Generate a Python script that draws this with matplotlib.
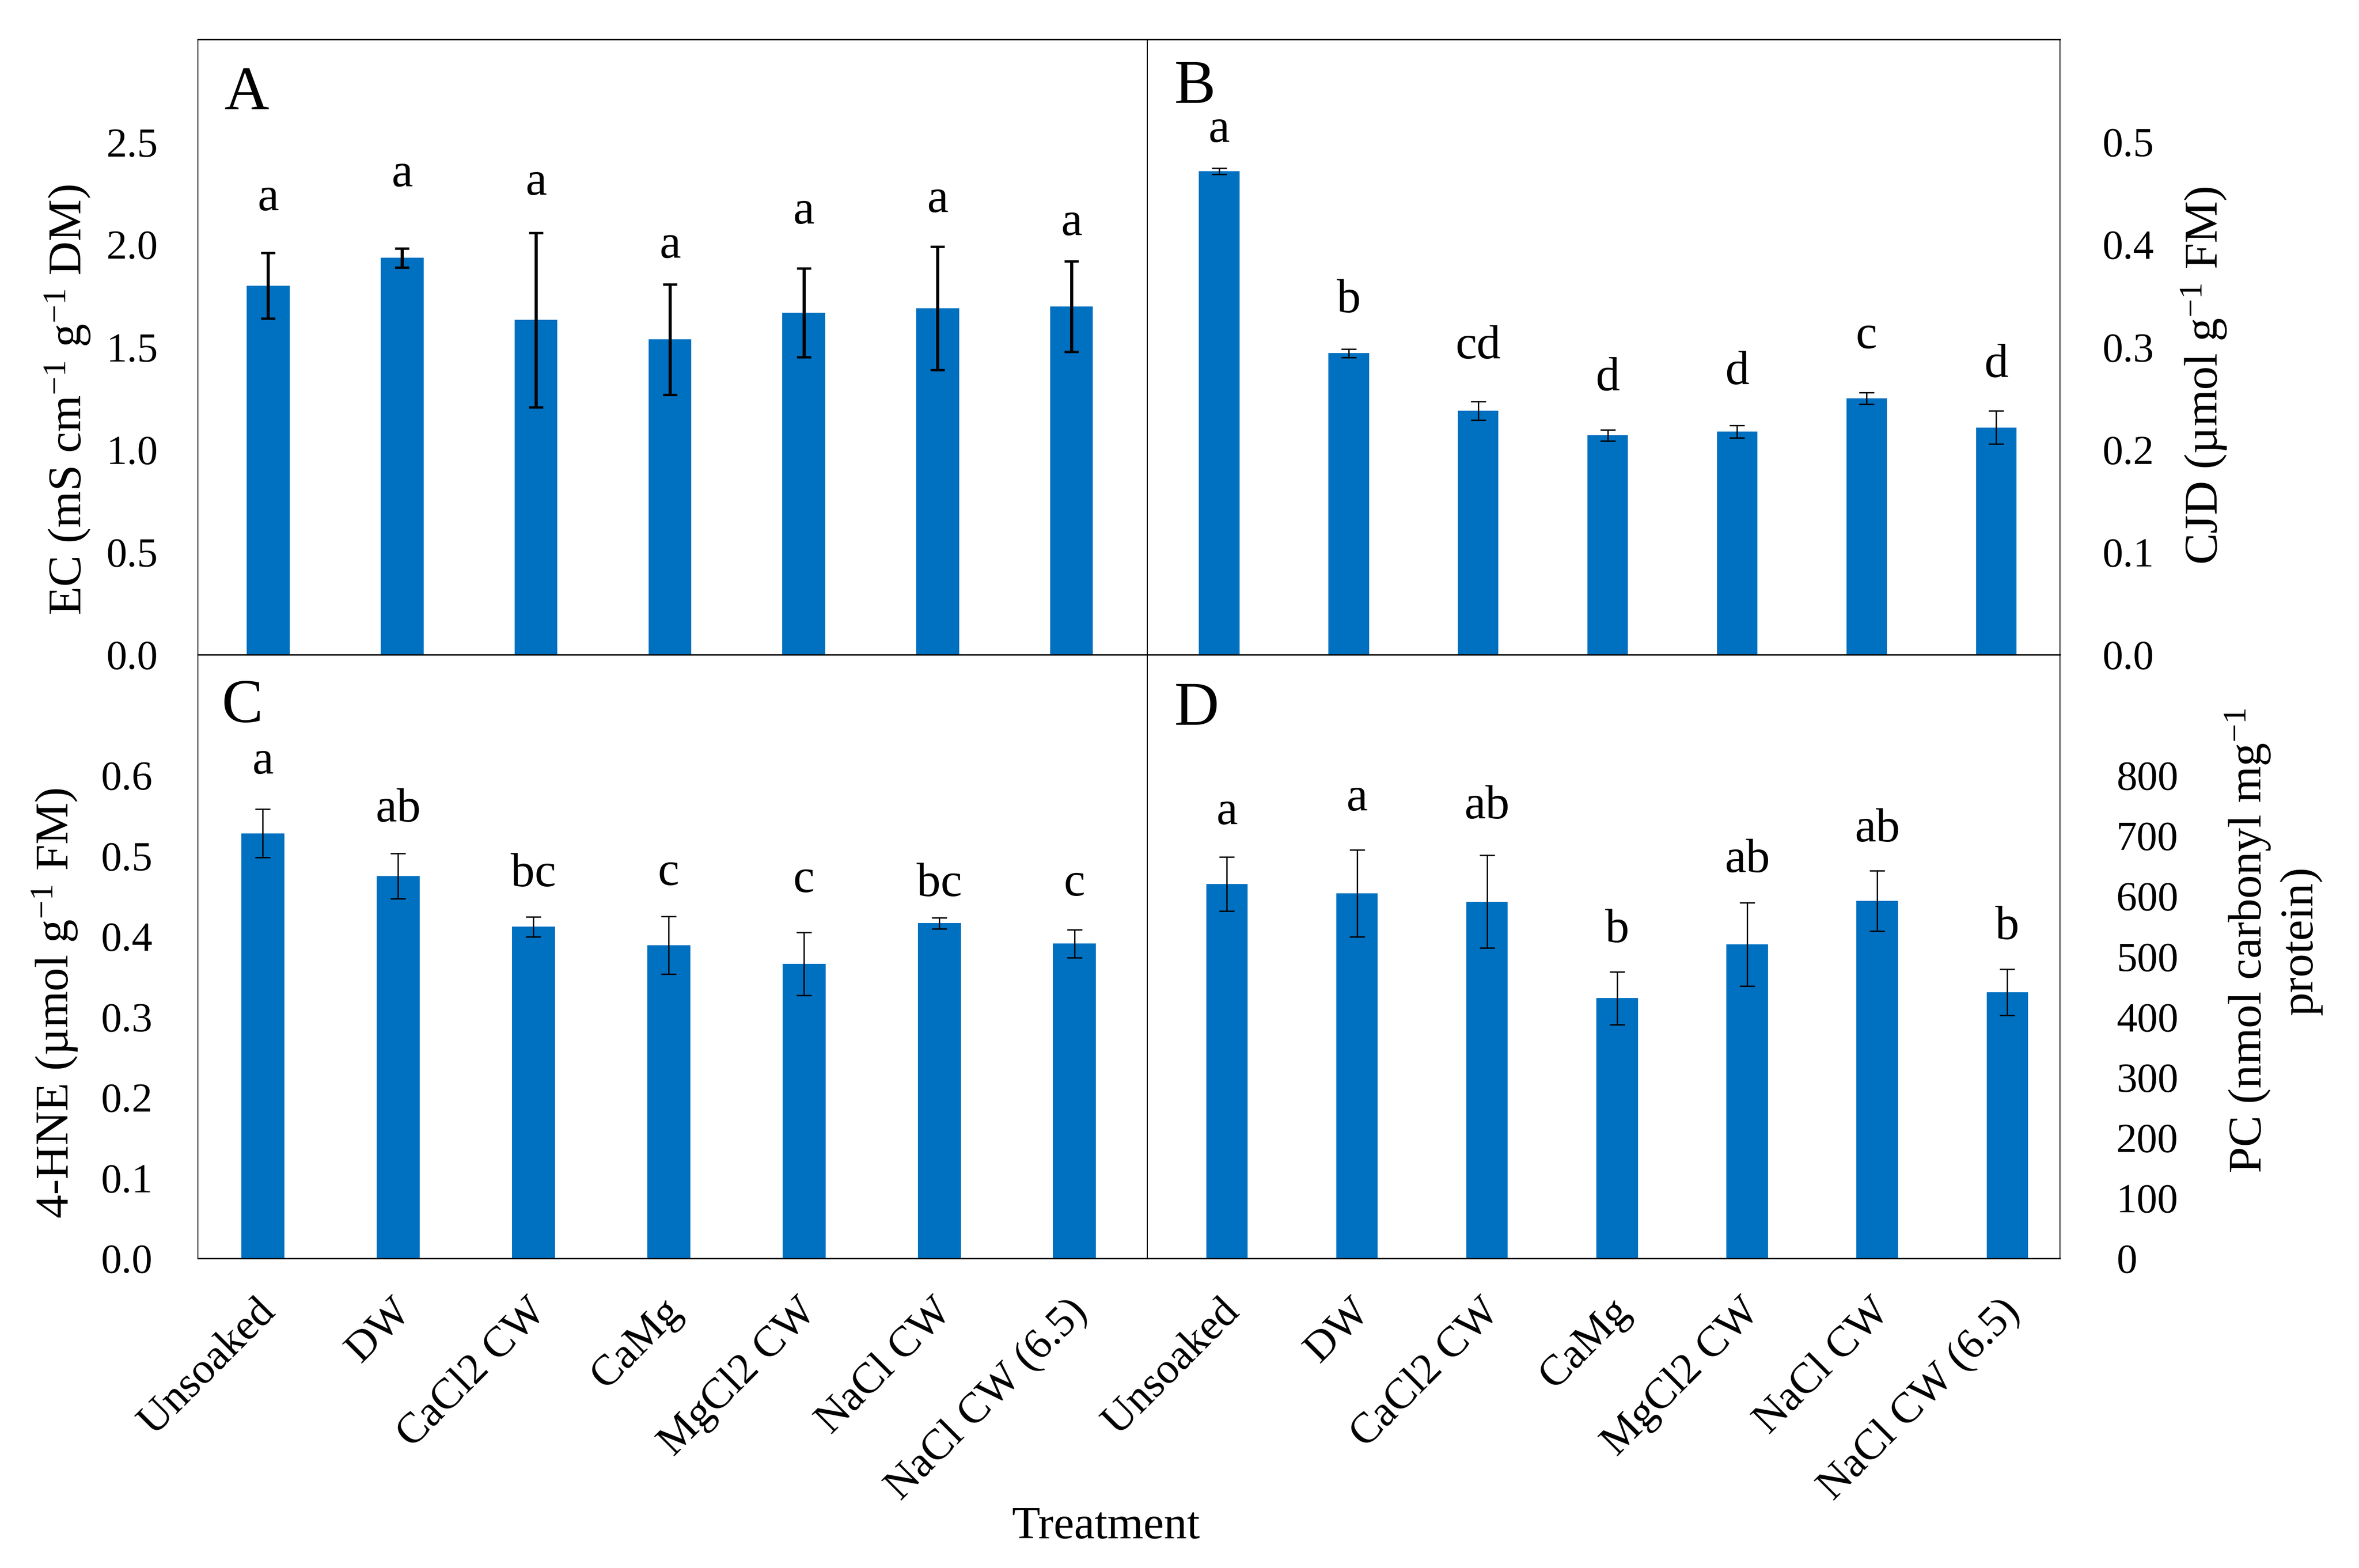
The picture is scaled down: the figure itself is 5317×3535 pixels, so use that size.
import numpy as np
import matplotlib
matplotlib.use("Agg")
import matplotlib.pyplot as plt
from matplotlib.transforms import ScaledTranslation

# ---------------- data ----------------
categories = ["Unsoaked", "DW", "CaCl2 CW", "CaMg", "MgCl2 CW", "NaCl CW", "NaCl CW (6.5)"]

ec_mean = [1.80, 1.935, 1.633, 1.537, 1.668, 1.689, 1.698]
ec_err = [0.16, 0.046, 0.425, 0.27, 0.217, 0.30, 0.22]
ec_letters = ["a", "a", "a", "a", "a", "a", "a"]
ec_letter_y = [2.167, 2.285, 2.244, 1.935, 2.102, 2.158, 2.046]

cjd_mean = [0.4717, 0.294, 0.238, 0.214, 0.2176, 0.250, 0.2217]
cjd_err = [0.003, 0.004, 0.009, 0.0054, 0.006, 0.0055, 0.0163]
cjd_letters = ["a", "b", "cd", "d", "d", "c", "d"]
cjd_letter_y = [0.500, 0.334, 0.289, 0.258, 0.264, 0.299, 0.271]

hne_mean = [0.528, 0.475, 0.412, 0.389, 0.366, 0.4164, 0.391]
hne_err = [0.030, 0.028, 0.0125, 0.036, 0.039, 0.007, 0.0175]
hne_letters = ["a", "ab", "bc", "c", "c", "bc", "c"]
hne_letter_y = [0.6025, 0.5426, 0.4626, 0.464, 0.455, 0.450, 0.451]

pc_mean = [620, 605, 591, 431, 520, 592, 441]
pc_err = [45, 72, 77, 44, 69, 50, 38]
pc_letters = ["a", "a", "ab", "b", "ab", "ab", "b"]
pc_letter_y = [719, 742, 729, 524, 640, 691, 529]

ec_ticks = [0.0, 0.5, 1.0, 1.5, 2.0, 2.5]
cjd_ticks = [0.0, 0.1, 0.2, 0.3, 0.4, 0.5]
hne_ticks = [0.0, 0.1, 0.2, 0.3, 0.4, 0.5, 0.6]
pc_ticks = [0, 100, 200, 300, 400, 500, 600, 700, 800]

# ---------------- style ----------------
plt.rcParams['font.family'] = ['Liberation Serif', 'DejaVu Serif']
plt.rcParams['mathtext.fontset'] = 'custom'
plt.rcParams['mathtext.rm'] = 'Liberation Serif'
plt.rcParams['mathtext.it'] = 'Liberation Serif:italic'
plt.rcParams['mathtext.bf'] = 'Liberation Serif:bold'

W, H = 5317, 3535
fig = plt.figure(figsize=(W / 300, H / 300), dpi=300)


def fx(px):
    return px / W


def fy(py):
    return 1 - py / H


L, M, R = 446, 2586, 4643
T, MID, B = 89, 1476, 2837

axA = fig.add_axes([fx(L), fy(MID), fx(M) - fx(L), fy(T) - fy(MID)])
axB = fig.add_axes([fx(M), fy(MID), fx(R) - fx(M), fy(T) - fy(MID)])
axC = fig.add_axes([fx(L), fy(B), fx(M) - fx(L), fy(MID) - fy(B)])
axD = fig.add_axes([fx(M), fy(B), fx(R) - fx(M), fy(MID) - fy(B)])

BLUE = "#0070C0"
x = np.arange(len(categories))

panels = [
    (axA, ec_mean, ec_err, ec_letters, ec_letter_y, (0, 3.0), ec_ticks, "{:.1f}",
     (-0.525, 6.566), 0.32, 1.7, 1.3, 3.9, 'left', 21.6),
    (axB, cjd_mean, cjd_err, cjd_letters, cjd_letter_y, (0, 0.6), cjd_ticks, "{:.1f}",
     (-0.554, 6.492), 0.314, 0.75, 0.75, 4.0, 'right', 23.0),
    (axC, hne_mean, hne_err, hne_letters, hne_letter_y, (0, 0.75), hne_ticks, "{:.1f}",
     (-0.480, 6.538), 0.318, 0.75, 0.75, 4.0, 'left', 24.5),
    (axD, pc_mean, pc_err, pc_letters, pc_letter_y, (0, 1000), pc_ticks, "{:.0f}",
     (-0.612, 6.405), 0.319, 0.75, 0.75, 4.0, 'right', 30.5),
]

for (ax, mean, err, letters, ly, ylim, yt, fmt, xlim, bw, elw, ct, cs, side, ypad) in panels:
    ax.bar(x, mean, width=bw, color=BLUE, yerr=err,
           error_kw=dict(ecolor='black', elinewidth=elw, capsize=cs, capthick=ct))
    for xi, lt, yy in zip(x, letters, ly):
        ax.text(xi, yy, lt, ha='center', va='baseline', fontsize=26)
    ax.set_ylim(*ylim)
    ax.set_xlim(*xlim)
    ax.set_yticks(yt, [fmt.format(v) for v in yt])
    if side == 'right':
        ax.yaxis.tick_right()
    ax.tick_params(axis='y', length=0, pad=ypad, labelsize=22.4)
    for name, sp in ax.spines.items():
        sp.set_linewidth(0.75 if name in ('top', 'bottom') else 0.5)
        sp.set_color('black')

for ax in (axA, axB):
    ax.set_xticks(x)
    ax.tick_params(axis='x', length=0, labelbottom=False)

shift = ScaledTranslation(-17 / 300, 0, fig.dpi_scale_trans)
for ax in (axC, axD):
    ax.set_xticks(x, categories, rotation=45, ha='right', va='top',
                  rotation_mode='anchor', fontsize=23.5)
    ax.tick_params(axis='x', length=0, pad=18)
    for lab in ax.get_xticklabels():
        lab.set_transform(lab.get_transform() + shift)

# panel letters
fig.text(fx(506), fy(246), "A", ha='left', va='baseline', fontsize=33.5)
fig.text(fx(2647), fy(232), "B", ha='left', va='baseline', fontsize=33.5)
fig.text(fx(499), fy(1628), "C", ha='left', va='baseline', fontsize=33.5)
fig.text(fx(2647), fy(1634), "D", ha='left', va='baseline', fontsize=33.5)

# axis labels
fig.text(fx(153), fy(902), r"EC (mS cm$^{-1}$ g$^{-1}$ DM)", rotation=90,
         ha='center', va='center', fontsize=25.5)
fig.text(fx(124), fy(2262), r"4-HNE (µmol g$^{-1}$ FM)", rotation=90,
         ha='center', va='center', fontsize=25.5)
fig.text(fx(4968), fy(847), r"CJD (µmol g$^{-1}$ FM)", rotation=90,
         ha='center', va='center', fontsize=25.5)
fig.text(fx(5123), fy(2121), "PC (nmol carbonyl mg$^{-1}$\nprotein)", rotation=90,
         ha='center', va='center', multialignment='center', fontsize=25.5)
fig.text(fx(2492), fy(3468), "Treatment", ha='center', va='baseline', fontsize=25)

fig.savefig("out.png", dpi=300)
